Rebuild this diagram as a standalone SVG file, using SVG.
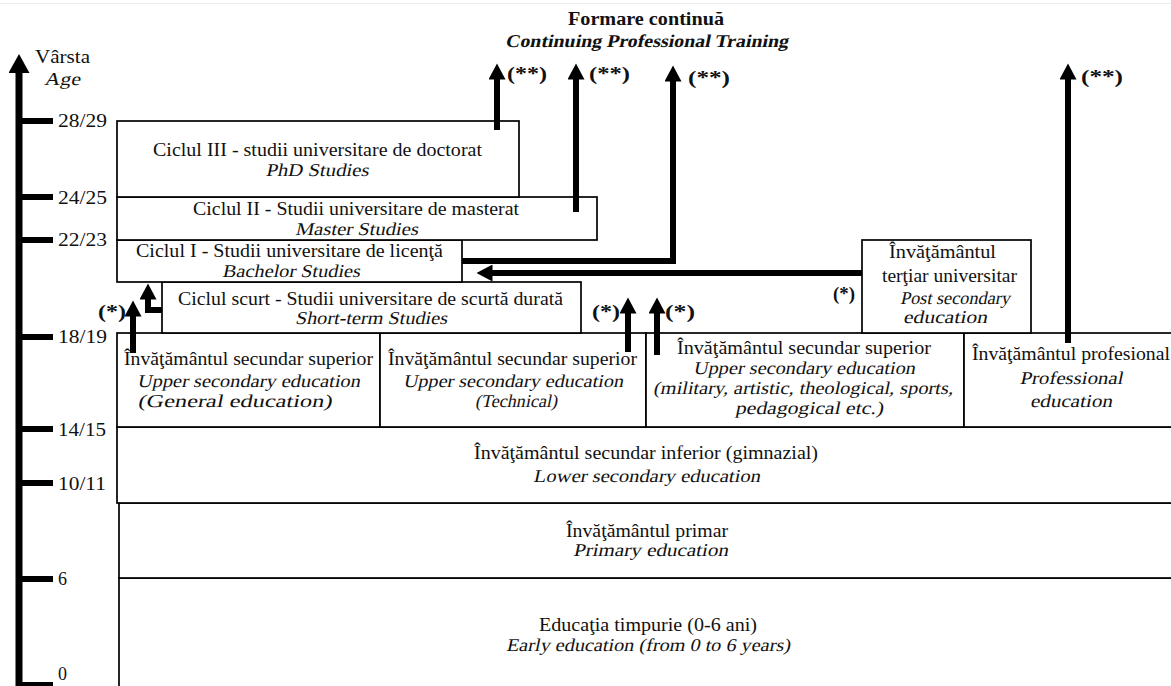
<svg xmlns="http://www.w3.org/2000/svg" width="1171" height="686" viewBox="0 0 1171 686">
<defs>
<style>
text{font-family:"Liberation Serif","Times New Roman",serif;font-size:18px;fill:#111}
.b{font-weight:bold}
.m{text-anchor:middle}
.box{fill:#fff;stroke:#000;stroke-width:1.7}
.arr{fill:none;stroke:#000;stroke-width:6;stroke-linejoin:miter}
.tick{stroke:#000;stroke-width:6}
</style>
<marker id="head" markerUnits="userSpaceOnUse" markerWidth="17" markerHeight="17" refX="0.5" refY="8.5" orient="auto" viewBox="0 0 17 17">
<path d="M0,0 L16,8.5 L0,17 Z" fill="#000"/>
</marker>
<marker id="bighead" markerUnits="userSpaceOnUse" markerWidth="20" markerHeight="21" refX="0.5" refY="10.5" orient="auto" viewBox="0 0 20 21">
<path d="M0,0 L19,10.5 L0,21 Z" fill="#000"/>
</marker>
</defs>
<rect x="0" y="0" width="1171" height="686" fill="#fff"/>
<line x1="0" y1="3.5" x2="1171" y2="3.5" stroke="#ececec" stroke-width="1"/>

<g id="title">
<text class="b m" x="646" y="25" font-size="17" textLength="156" lengthAdjust="spacingAndGlyphs">Formare continuă</text>
<text class="b m" transform="translate(646.5,47) skewX(-12)" font-size="17" textLength="283" lengthAdjust="spacingAndGlyphs">Continuing Professional Training</text>
</g>

<g id="axis">
<line x1="19" y1="686" x2="19" y2="72.5" stroke="#000" stroke-width="7" marker-end="url(#bighead)"/>
<line class="tick" x1="19" y1="121" x2="53" y2="121"/>
<line class="tick" x1="19" y1="197" x2="53" y2="197"/>
<line class="tick" x1="19" y1="240" x2="53" y2="240"/>
<line class="tick" x1="19" y1="337" x2="53" y2="337"/>
<line class="tick" x1="19" y1="429" x2="53" y2="429"/>
<line class="tick" x1="19" y1="483" x2="53" y2="483"/>
<line class="tick" x1="19" y1="579" x2="53" y2="579"/>
<line class="tick" x1="19" y1="685" x2="53" y2="685"/>
<text x="35" y="63" textLength="55" lengthAdjust="spacingAndGlyphs">Vârsta</text>
<text transform="translate(44,85) skewX(-12)" textLength="36" lengthAdjust="spacingAndGlyphs">Age</text>
<text x="58" y="127" textLength="49" lengthAdjust="spacingAndGlyphs">28/29</text>
<text x="58" y="204" textLength="49" lengthAdjust="spacingAndGlyphs">24/25</text>
<text x="58" y="246" textLength="49" lengthAdjust="spacingAndGlyphs">22/23</text>
<text x="58" y="343" textLength="49" lengthAdjust="spacingAndGlyphs">18/19</text>
<text x="58" y="436" textLength="48" lengthAdjust="spacingAndGlyphs">14/15</text>
<text x="58" y="490" textLength="48" lengthAdjust="spacingAndGlyphs">10/11</text>
<text x="58" y="585">6</text>
<text x="58" y="680">0</text>
</g>

<g id="early">
<rect class="box" x="119" y="578" width="1070" height="130"/>
<text class="m" x="648" y="631" textLength="218" lengthAdjust="spacingAndGlyphs">Educaţia timpurie (0-6 ani)</text>
<text class="m" transform="translate(648,651) skewX(-12)" textLength="284" lengthAdjust="spacingAndGlyphs">Early education (from 0 to 6 years)</text>
</g>
<g id="primary">
<rect class="box" x="119" y="503" width="1070" height="75"/>
<text class="m" x="647" y="537" textLength="162" lengthAdjust="spacingAndGlyphs">Învăţământul primar</text>
<text class="m" transform="translate(650.5,556) skewX(-12)" textLength="155" lengthAdjust="spacingAndGlyphs">Primary education</text>
</g>
<g id="lower-secondary">
<rect class="box" x="117" y="427" width="1070" height="76"/>
<text class="m" x="646" y="459" textLength="344" lengthAdjust="spacingAndGlyphs">Învăţământul secundar inferior (gimnazial)</text>
<text class="m" transform="translate(646.5,482) skewX(-12)" textLength="227" lengthAdjust="spacingAndGlyphs">Lower secondary education</text>
</g>

<g id="upper-general">
<rect class="box" x="117" y="333" width="263" height="94"/>
<text class="m" x="248.5" y="365" textLength="249" lengthAdjust="spacingAndGlyphs">Învăţământul secundar superior</text>
<text class="m" transform="translate(248.5,387) skewX(-12)" textLength="223" lengthAdjust="spacingAndGlyphs">Upper secondary education</text>
<text class="m" transform="translate(234.5,407) skewX(-12)" textLength="194" lengthAdjust="spacingAndGlyphs">(General education)</text>
</g>
<g id="upper-technical">
<rect class="box" x="380" y="333" width="266" height="94"/>
<text class="m" x="512.5" y="365" textLength="249" lengthAdjust="spacingAndGlyphs">Învăţământul secundar superior</text>
<text class="m" transform="translate(513,387) skewX(-12)" textLength="220" lengthAdjust="spacingAndGlyphs">Upper secondary education</text>
<text class="m" transform="translate(516,407) skewX(-12)" textLength="82" lengthAdjust="spacingAndGlyphs">(Technical)</text>
</g>
<g id="upper-special">
<rect class="box" x="646" y="333" width="318" height="94"/>
<text class="m" x="804" y="354" textLength="254" lengthAdjust="spacingAndGlyphs">Învăţământul secundar superior</text>
<text class="m" transform="translate(804,374) skewX(-12)" textLength="222" lengthAdjust="spacingAndGlyphs">Upper secondary education</text>
<text class="m" transform="translate(803,394) skewX(-12)" textLength="300" lengthAdjust="spacingAndGlyphs">(military, artistic, theological, sports,</text>
<text class="m" transform="translate(809,414) skewX(-12)" textLength="148" lengthAdjust="spacingAndGlyphs">pedagogical etc.)</text>
</g>
<g id="professional">
<rect class="box" x="964" y="333" width="220" height="94"/>
<text class="m" x="1071" y="360" textLength="198" lengthAdjust="spacingAndGlyphs">Învăţământul profesional</text>
<text class="m" transform="translate(1071,384) skewX(-12)" textLength="103" lengthAdjust="spacingAndGlyphs">Professional</text>
<text class="m" transform="translate(1071,407) skewX(-12)" textLength="82" lengthAdjust="spacingAndGlyphs">education</text>
</g>

<g id="short-cycle">
<rect class="box" x="162" y="282" width="419" height="51"/>
<text class="m" x="370.5" y="305" textLength="385" lengthAdjust="spacingAndGlyphs">Ciclul scurt - Studii universitare de scurtă durată</text>
<text class="m" transform="translate(371,324) skewX(-12)" textLength="152" lengthAdjust="spacingAndGlyphs">Short-term Studies</text>
</g>
<g id="post-secondary">
<rect class="box" x="862" y="240" width="169" height="93"/>
<text class="m" x="942.5" y="258" textLength="107" lengthAdjust="spacingAndGlyphs">Învăţământul</text>
<text class="m" x="949.5" y="282" textLength="135" lengthAdjust="spacingAndGlyphs">terţiar universitar</text>
<text class="m" transform="translate(955,304) skewX(-12)" textLength="110" lengthAdjust="spacingAndGlyphs">Post secondary</text>
<text class="m" transform="translate(945,323) skewX(-12)" textLength="84" lengthAdjust="spacingAndGlyphs">education</text>
</g>
<g id="bachelor">
<rect class="box" x="117" y="240" width="345" height="42"/>
<text class="m" x="289.5" y="257" textLength="307" lengthAdjust="spacingAndGlyphs">Ciclul I - Studii universitare de licenţă</text>
<text class="m" transform="translate(291,277) skewX(-12)" textLength="138" lengthAdjust="spacingAndGlyphs">Bachelor Studies</text>
</g>
<g id="master">
<rect class="box" x="117" y="197" width="480" height="43"/>
<text class="m" x="356" y="215" textLength="326" lengthAdjust="spacingAndGlyphs">Ciclul II - Studii universitare de masterat</text>
<text class="m" transform="translate(356.5,235) skewX(-12)" textLength="123" lengthAdjust="spacingAndGlyphs">Master Studies</text>
</g>
<g id="phd">
<rect class="box" x="117" y="121" width="402" height="76"/>
<text class="m" x="317.5" y="156" textLength="329" lengthAdjust="spacingAndGlyphs">Ciclul III - studii universitare de doctorat</text>
<text class="m" transform="translate(317,176) skewX(-12)" textLength="103" lengthAdjust="spacingAndGlyphs">PhD Studies</text>
</g>

<g id="connectors">
<path class="arr" d="M497,130 V79" marker-end="url(#head)"/>
<path class="arr" d="M576,212 V79" marker-end="url(#head)"/>
<path class="arr" d="M462,261 H673 V81" marker-end="url(#head)"/>
<path class="arr" d="M1068,343 V79" marker-end="url(#head)"/>
<path class="arr" d="M862,273 H492" marker-end="url(#head)"/>
<path class="arr" d="M133,353 V316" marker-end="url(#head)"/>
<path class="arr" d="M162,310 H148 V299" stroke-width="5" marker-end="url(#head)"/>
<path class="arr" d="M628,352 V313" marker-end="url(#head)"/>
<path class="arr" d="M657,355 V313" marker-end="url(#head)"/>
</g>

<g id="notes">
<text class="b" x="507" y="80" textLength="40" lengthAdjust="spacingAndGlyphs">(**)</text>
<text class="b" x="589" y="80" textLength="41" lengthAdjust="spacingAndGlyphs">(**)</text>
<text class="b" x="688" y="84" textLength="42" lengthAdjust="spacingAndGlyphs">(**)</text>
<text class="b" x="1081" y="83" textLength="42" lengthAdjust="spacingAndGlyphs">(**)</text>
<text class="b" x="98" y="318" textLength="28" lengthAdjust="spacingAndGlyphs">(*)</text>
<text class="b" x="592" y="318" textLength="28" lengthAdjust="spacingAndGlyphs">(*)</text>
<text class="b" x="665" y="318" textLength="30" lengthAdjust="spacingAndGlyphs">(*)</text>
<text class="b" x="833" y="300" textLength="22" lengthAdjust="spacingAndGlyphs">(*)</text>
</g>
</svg>
